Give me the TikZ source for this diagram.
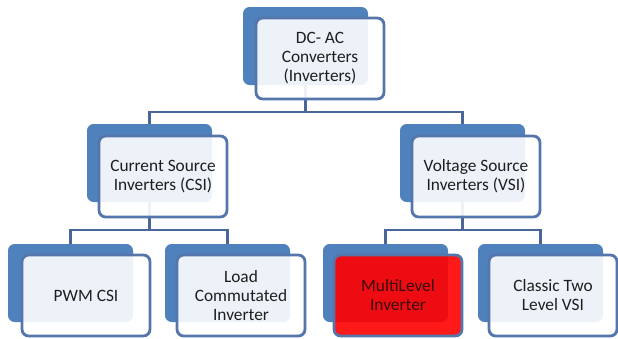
\documentclass[tikz,border=0pt]{standalone}
\usepackage{fontspec}
\setmainfont{Carlito}
\definecolor{backblue}{HTML}{4F81BD}
\definecolor{edgeblue}{HTML}{5576AC}
\definecolor{linkblue}{HTML}{4A6698}
\definecolor{txt}{HTML}{1E1E1E}
\definecolor{redtxt}{HTML}{3A0A0A}
\begin{document}
\begin{tikzpicture}[x=0.75pt,y=-0.75pt,
  backbox/.style={anchor=north west,rectangle,rounded corners=5pt,fill=backblue,draw=none,
    minimum width=93.75pt,minimum height=58.5pt,inner sep=0pt,outer sep=0pt},
  frontbox/.style={anchor=north west,rectangle,rounded corners=5pt,fill=white,fill opacity=0.9,
    text opacity=1,draw=edgeblue,line width=2.1pt,minimum width=96pt,minimum height=60.75pt,
    inner sep=2pt,outer sep=0pt,align=center,text=txt,
    font=\fontsize{13}{14.2}\selectfont},
  redbox/.style={frontbox,fill=red,text=redtxt},
  conn/.style={draw=linkblue,line width=2pt}]
\useasboundingbox (0,0) rectangle (618,339);
\fill[white] (0,0) rectangle (618,339);
% bus coordinates
\coordinate (busA) at (305.5,112);
\coordinate (busB) at (149.5,230);
\coordinate (busC) at (462.5,230);
% back boxes
\node[backbox] (topB) at (243,7) {};
\node[backbox] (csiB) at (87,124) {};
\node[backbox] (vsiB) at (400,124) {};
\node[backbox] (pwmB) at (8,244) {};
\node[backbox] (lciB) at (165,244) {};
\node[backbox] (mliB) at (323,244) {};
\node[backbox] (ctlB) at (478,244) {};
% connectors
\draw[conn] (topB.south) -- (busA);
\draw[conn] (csiB.north) -- (csiB.north |- busA) -- (vsiB.north |- busA) -- (vsiB.north);
\draw[conn] (csiB.south) -- (busB);
\draw[conn] (pwmB.north) -- (pwmB.north |- busB) -- (lciB.north |- busB) -- (lciB.north);
\draw[conn] (vsiB.south) -- (busC);
\draw[conn] (mliB.north) -- (mliB.north |- busC) -- (ctlB.north |- busC) -- (ctlB.north);
% front boxes
\node[frontbox] (topF) at (256,18) {DC- AC\\Converters\\(Inverters)};
\node[frontbox] (csiF) at (99,136) {Current Source\\Inverters (CSI)};
\node[frontbox] (vsiF) at (412,136) {Voltage Source\\Inverters (VSI)};
\node[frontbox] (pwmF) at (22,255) {PWM CSI};
\node[frontbox] (lciF) at (177,255) {Load\\Commutated\\Inverter};
\node[redbox] (mliF) at (334,255) {MultiLevel\\Inverter};
\node[frontbox] (ctlF) at (489,255) {Classic Two\\Level VSI};
\end{tikzpicture}
\end{document}
